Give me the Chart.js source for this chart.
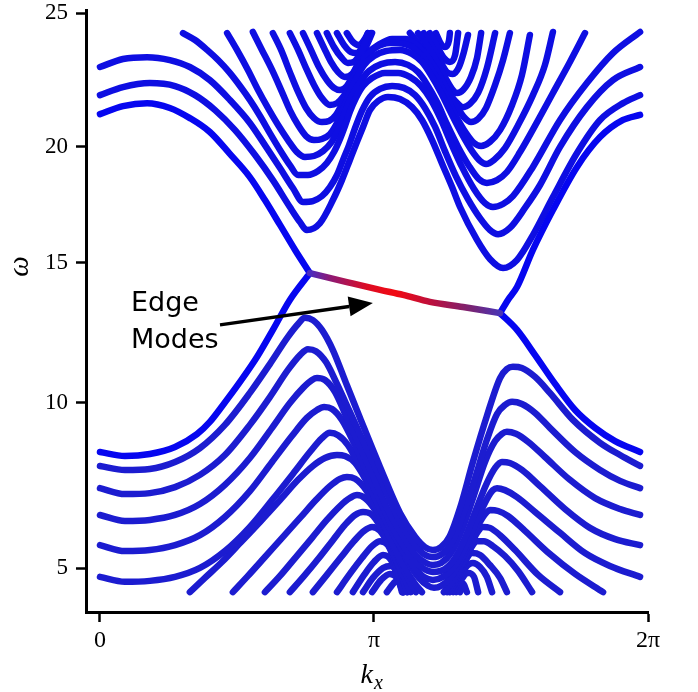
<!DOCTYPE html>
<html>
<head>
<meta charset="utf-8">
<script src="https://cdn.jsdelivr.net/npm/chart.js@4/dist/chart.umd.min.js"></script>
<style>
  html, body { margin: 0; padding: 0; background: #fff; }
  canvas { display: block; }
</style>
</head>
<body>
<canvas id="bands" width="698" height="692"></canvas>
<script>
const xTickValues = [0, 1, 2];
const xTickLabels = ['0', 'π', '2π'];
const yTickValues = [5, 10, 15, 20, 25];

// the omega axis is not evenly spaced: value -> fraction of the axis height
const yAxisValues = [3.68, 5, 10, 15, 20, 25, 25.11];
const yAxisPlaces = [0, 0.0726, 0.3477, 0.5802, 0.7729, 0.995, 1];

// edge state across the gap
const edgeMode = [[0.766,14.63],[0.901,14.31],[1.022,14.03],[1.106,13.85],[1.204,13.60],[1.325,13.42],[1.46,13.20]];

// bulk bands that end on the edge state
const upperEdgeLeft = [[0,21.22],[0.084,21.52],[0.172,21.63],[0.255,21.45],[0.328,21.07],[0.401,20.55],[0.474,19.69],[0.547,18.69],[0.602,17.70],[0.657,16.63],[0.712,15.55],[0.766,14.63]];
const upperEdgeRight = [[1.46,13.20],[1.489,13.67],[1.522,14.13],[1.58,15.55],[1.653,17.27],[1.741,19.13],[1.825,20.36],[1.909,21.0],[1.971,21.19]];
const lowerEdgeLeft = [[0,8.51],[0.091,8.39],[0.182,8.45],[0.274,8.66],[0.354,9.05],[0.401,9.42],[0.449,9.93],[0.511,10.74],[0.573,11.63],[0.631,12.60],[0.693,13.67],[0.766,14.63]];
const lowerEdgeRight = [[1.46,13.2],[1.522,12.6],[1.588,11.7],[1.661,10.67],[1.734,9.78],[1.807,9.24],[1.88,8.84],[1.971,8.51]];

// upper bands
const upperBands = [
  [[0,21.93],[0.084,22.23],[0.182,22.38],[0.274,22.27],[0.347,21.93],[0.42,21.37],[0.493,20.62],[0.566,19.64],[0.631,18.56],[0.693,17.40],[0.73,16.75],[0.755,16.41],[0.803,16.71],[0.85,17.70],[0.883,18.56],[0.912,19.43],[0.938,20.18],[0.96,20.74],[0.985,21.37],[1.015,21.71],[1.051,21.86],[1.095,21.78],[1.139,21.48],[1.175,21.0],[1.212,20.25],[1.252,19.17],[1.285,18.26],[1.314,17.40],[1.376,15.98],[1.423,15.16],[1.471,14.81],[1.522,15.12],[1.58,16.19],[1.653,17.83],[1.741,19.73],[1.825,21.0],[1.909,21.63],[1.971,21.93]],
  [[0,22.98],[0.084,23.28],[0.172,23.35],[0.255,23.24],[0.328,22.98],[0.401,22.49],[0.474,21.75],[0.547,20.89],[0.602,20.06],[0.657,19.08],[0.704,18.22],[0.741,17.62],[0.777,17.66],[0.81,17.87],[0.839,18.26],[0.865,18.78],[0.887,19.43],[0.909,20.06],[0.931,20.70],[0.956,21.34],[0.985,21.86],[1.022,22.16],[1.066,22.27],[1.109,22.20],[1.15,21.93],[1.186,21.45],[1.223,20.74],[1.259,19.81],[1.299,18.73],[1.343,17.74],[1.387,16.92],[1.423,16.41],[1.453,16.23],[1.496,16.50],[1.551,17.36],[1.606,18.35],[1.679,19.99],[1.777,21.48],[1.872,22.49],[1.971,22.98]],
  [[0.303,24.25],[0.347,23.99],[0.391,23.62],[0.431,23.24],[0.474,22.76],[0.511,22.27],[0.547,21.75],[0.584,21.15],[0.62,20.51],[0.657,19.86],[0.693,19.21],[0.723,18.78],[0.759,18.78],[0.796,18.95],[0.828,19.30],[0.854,19.77],[0.876,20.29],[0.894,20.77],[0.912,21.30],[0.934,21.82],[0.96,22.27],[0.993,22.57],[1.04,22.76],[1.088,22.76],[1.131,22.61],[1.172,22.27],[1.208,21.75],[1.245,21.0],[1.281,20.14],[1.321,19.13],[1.365,18.18],[1.405,17.57],[1.434,17.40],[1.471,17.53],[1.507,17.87],[1.58,19.13],[1.679,21.0],[1.777,22.38],[1.872,23.50],[1.971,24.29]],
  [[0.464,24.25],[0.5,23.62],[0.54,22.87],[0.577,22.12],[0.613,21.45],[0.65,20.81],[0.686,20.25],[0.719,19.77],[0.748,19.56],[0.781,19.60],[0.814,19.81],[0.843,20.14],[0.865,20.55],[0.883,21.0],[0.901,21.48],[0.923,21.97],[0.949,22.42],[0.982,22.83],[1.026,23.09],[1.077,23.17],[1.124,23.06],[1.161,22.79],[1.193,22.34],[1.23,21.67],[1.266,20.85],[1.307,19.99],[1.347,19.17],[1.383,18.60],[1.412,18.44],[1.449,18.56],[1.485,18.91],[1.533,19.77],[1.595,20.92],[1.653,22.01],[1.715,23.17],[1.77,24.25]],
  [[0.558,24.29],[0.591,23.62],[0.628,22.87],[0.664,22.05],[0.693,21.37],[0.723,20.81],[0.752,20.40],[0.781,20.25],[0.81,20.29],[0.839,20.47],[0.861,20.81],[0.88,21.22],[0.898,21.67],[0.916,22.16],[0.938,22.61],[0.964,23.06],[1.0,23.39],[1.044,23.58],[1.095,23.62],[1.139,23.47],[1.175,23.17],[1.208,22.68],[1.245,22.01],[1.281,21.26],[1.321,20.47],[1.358,19.81],[1.387,19.39],[1.409,19.25],[1.438,19.43],[1.478,19.94],[1.526,20.81],[1.58,21.93],[1.624,23.06],[1.653,24.29]],
  [[0.631,24.25],[0.661,23.62],[0.693,22.79],[0.723,22.05],[0.752,21.45],[0.781,21.07],[0.81,20.92],[0.836,20.96],[0.861,21.19],[0.88,21.52],[0.898,21.93],[0.916,22.38],[0.938,22.83],[0.967,23.32],[1.004,23.69],[1.058,23.88],[1.113,23.84],[1.153,23.62],[1.19,23.20],[1.226,22.61],[1.263,21.90],[1.299,21.15],[1.336,20.51],[1.365,20.14],[1.391,20.03],[1.423,20.18],[1.46,20.62],[1.504,21.56],[1.54,22.68],[1.569,24.18]],
  [[0.693,24.25],[0.723,23.62],[0.752,22.94],[0.781,22.31],[0.81,21.82],[0.839,21.56],[0.865,21.63],[0.887,21.86],[0.905,22.20],[0.923,22.61],[0.945,23.06],[0.974,23.47],[1.015,23.80],[1.066,24.03],[1.117,24.03],[1.157,23.80],[1.193,23.39],[1.23,22.83],[1.266,22.16],[1.299,21.56],[1.328,21.11],[1.354,20.92],[1.38,21.04],[1.409,21.45],[1.442,22.31],[1.471,23.24],[1.496,24.25]]
];
// upper bands that leave the window over the dome
const upperArcs = [
  [[0.741,24.25],[0.77,23.62],[0.799,22.98],[0.828,22.49],[0.854,22.20],[0.876,22.12],[0.901,22.27],[0.927,22.76],[0.953,23.43],[0.978,24.25]],
  [[1.131,24.25],[1.168,23.80],[1.204,23.24],[1.241,22.61],[1.277,21.97],[1.307,21.60],[1.325,21.48],[1.35,21.60],[1.38,22.01],[1.412,22.94],[1.442,24.25]],
  [[0.792,24.25],[0.818,23.69],[0.843,23.17],[0.869,22.79],[0.894,22.61],[0.92,22.72],[0.945,23.17],[0.971,23.73],[0.993,24.25]],
  [[1.161,24.25],[1.193,23.80],[1.23,23.17],[1.263,22.53],[1.285,22.16],[1.303,22.01],[1.325,22.12],[1.354,22.61],[1.376,23.32],[1.391,24.25]],
  [[0.828,24.25],[0.854,23.73],[0.88,23.35],[0.905,23.13],[0.927,23.17],[0.953,23.54],[0.978,24.06],[0.989,24.25]],
  [[1.182,24.25],[1.215,23.69],[1.245,23.13],[1.266,22.79],[1.288,22.72],[1.31,22.98],[1.328,23.54],[1.343,24.18]],
  [[0.865,24.25],[0.891,23.80],[0.916,23.54],[0.938,23.50],[0.96,23.77],[0.982,24.18]],
  [[1.204,24.25],[1.23,23.77],[1.255,23.32],[1.277,23.17],[1.296,23.43],[1.307,24.25]],
  [[0.901,24.25],[0.923,23.92],[0.945,23.80],[0.964,23.99],[0.978,24.25]],
  [[1.226,24.25],[1.245,23.84],[1.259,23.73],[1.274,23.99],[1.277,24.25]]
];

// lower bands
const lowerBands = [
  [[0,8.09],[0.091,7.97],[0.182,8.0],[0.274,8.21],[0.365,8.63],[0.456,9.33],[0.547,10.35],[0.62,11.38],[0.686,12.35],[0.723,12.81],[0.748,13.03],[0.777,12.95],[0.81,12.60],[0.85,11.88],[0.898,10.70],[0.949,9.54],[1.022,8.06],[1.095,6.67],[1.15,5.95],[1.186,5.64],[1.215,5.55],[1.245,5.64],[1.277,5.98],[1.314,6.82],[1.361,8.21],[1.412,9.60],[1.46,10.88],[1.485,11.20],[1.507,11.28],[1.54,11.24],[1.588,10.92],[1.642,10.35],[1.726,9.48],[1.825,8.79],[1.898,8.42],[1.971,8.09]],
  [[0,7.42],[0.091,7.24],[0.182,7.27],[0.274,7.45],[0.365,7.82],[0.456,8.42],[0.547,9.33],[0.62,10.20],[0.686,11.17],[0.73,11.70],[0.759,11.91],[0.788,11.84],[0.825,11.45],[0.865,10.67],[0.912,9.72],[0.964,8.78],[1.022,7.73],[1.088,6.52],[1.142,5.79],[1.182,5.43],[1.215,5.34],[1.248,5.43],[1.285,5.79],[1.325,6.61],[1.369,7.73],[1.412,8.88],[1.449,9.66],[1.478,9.93],[1.504,10.03],[1.54,9.96],[1.588,9.69],[1.642,9.24],[1.734,8.51],[1.825,7.97],[1.898,7.64],[1.971,7.42]],
  [[0,6.61],[0.091,6.43],[0.182,6.46],[0.274,6.61],[0.365,6.94],[0.456,7.52],[0.547,8.33],[0.628,9.24],[0.693,9.99],[0.741,10.53],[0.774,10.81],[0.792,10.88],[0.821,10.81],[0.858,10.38],[0.901,9.54],[0.949,8.66],[1.0,7.73],[1.051,6.76],[1.106,5.98],[1.153,5.40],[1.19,5.16],[1.215,5.10],[1.245,5.16],[1.281,5.46],[1.321,6.16],[1.365,7.21],[1.405,8.21],[1.442,8.84],[1.467,9.06],[1.485,9.12],[1.518,9.06],[1.562,8.82],[1.624,8.36],[1.715,7.67],[1.807,7.12],[1.898,6.79],[1.971,6.61]],
  [[0,5.70],[0.091,5.52],[0.182,5.55],[0.274,5.70],[0.365,6.0],[0.456,6.55],[0.547,7.33],[0.628,8.21],[0.701,9.0],[0.755,9.54],[0.792,9.78],[0.818,9.87],[0.847,9.81],[0.883,9.48],[0.927,8.78],[0.974,7.91],[1.026,6.97],[1.077,6.10],[1.128,5.43],[1.172,5.04],[1.215,4.89],[1.259,4.98],[1.296,5.31],[1.332,5.91],[1.372,6.76],[1.409,7.52],[1.442,8.03],[1.467,8.21],[1.496,8.18],[1.54,7.97],[1.606,7.48],[1.697,6.79],[1.788,6.22],[1.88,5.88],[1.971,5.70]],
  [[0,4.74],[0.091,4.59],[0.182,4.62],[0.274,4.74],[0.365,5.01],[0.456,5.52],[0.547,6.25],[0.628,7.06],[0.704,7.85],[0.766,8.51],[0.81,8.93],[0.839,9.09],[0.869,9.02],[0.905,8.72],[0.949,8.06],[0.996,7.24],[1.047,6.37],[1.099,5.61],[1.146,5.04],[1.182,4.74],[1.215,4.65],[1.252,4.74],[1.296,5.07],[1.336,5.70],[1.376,6.46],[1.412,7.09],[1.434,7.36],[1.449,7.42],[1.478,7.36],[1.522,7.15],[1.588,6.70],[1.679,6.07],[1.77,5.46],[1.861,5.07],[1.971,4.74]],
  [[0.328,4.28],[0.383,4.71],[0.445,5.19],[0.511,5.76],[0.584,6.40],[0.657,7.06],[0.723,7.67],[0.777,8.09],[0.821,8.33],[0.865,8.42],[0.894,8.39],[0.931,8.18],[0.974,7.61],[1.022,6.85],[1.073,6.01],[1.12,5.25],[1.164,4.71],[1.197,4.47],[1.219,4.41],[1.245,4.47],[1.281,4.74],[1.318,5.25],[1.354,5.91],[1.391,6.46],[1.412,6.70],[1.423,6.76],[1.453,6.73],[1.489,6.58],[1.551,6.13],[1.642,5.43],[1.734,4.83],[1.836,4.28]]
];
// lower bands that dip out of the window
const lowerArcs = [
  [[0.485,4.28],[0.54,4.77],[0.602,5.34],[0.668,5.95],[0.73,6.52],[0.788,7.06],[0.839,7.48],[0.876,7.70],[0.901,7.76],[0.931,7.70],[0.971,7.36],[1.015,6.70],[1.062,5.85],[1.109,5.07],[1.15,4.53],[1.175,4.28]],
  [[1.255,4.28],[1.285,4.59],[1.318,5.07],[1.35,5.64],[1.376,6.07],[1.398,6.25],[1.423,6.22],[1.46,6.0],[1.515,5.55],[1.599,4.80],[1.679,4.28]],
  [[0.602,4.28],[0.657,4.77],[0.715,5.34],[0.774,5.92],[0.828,6.46],[0.876,6.88],[0.912,7.12],[0.938,7.21],[0.967,7.12],[1.004,6.76],[1.047,6.07],[1.095,5.19],[1.131,4.59],[1.153,4.28]],
  [[1.266,4.28],[1.296,4.65],[1.325,5.16],[1.354,5.61],[1.376,5.82],[1.401,5.82],[1.434,5.67],[1.478,5.37],[1.526,4.92],[1.577,4.28]],
  [[0.693,4.28],[0.745,4.77],[0.799,5.31],[0.85,5.85],[0.894,6.31],[0.931,6.61],[0.96,6.70],[0.989,6.64],[1.026,6.22],[1.069,5.46],[1.109,4.74],[1.135,4.28]],
  [[1.277,4.28],[1.303,4.65],[1.328,5.13],[1.358,5.46],[1.387,5.40],[1.423,5.10],[1.46,4.71],[1.485,4.28]],
  [[0.777,4.28],[0.828,4.80],[0.88,5.34],[0.927,5.82],[0.964,6.13],[0.993,6.25],[1.022,6.13],[1.058,5.64],[1.095,4.95],[1.12,4.28]],
  [[1.288,4.28],[1.314,4.74],[1.339,5.07],[1.361,5.16],[1.387,5.04],[1.412,4.74],[1.431,4.28]],
  [[0.865,4.28],[0.912,4.83],[0.956,5.31],[0.993,5.67],[1.022,5.82],[1.051,5.70],[1.08,5.10],[1.106,4.28]],
  [[1.299,4.28],[1.321,4.68],[1.343,4.86],[1.365,4.74],[1.38,4.28]],
  [[0.923,4.28],[0.964,4.80],[1.0,5.19],[1.033,5.40],[1.062,5.25],[1.088,4.71],[1.102,4.28]],
  [[1.314,4.28],[1.325,4.53],[1.339,4.28]],
  [[0.96,4.28],[0.996,4.71],[1.033,5.01],[1.062,5.07],[1.088,4.80],[1.109,4.28]],
  [[0.993,4.28],[1.026,4.65],[1.058,4.83],[1.084,4.71],[1.106,4.28]],
  [[1.047,4.28],[1.077,4.59],[1.102,4.65],[1.124,4.28]]
];

// label and arrow, in (kx/pi, omega)
const labelAt = [0.113, 13.27, 11.95];
const arrowFrom = [0.438, 12.78];
const arrowTo = [0.996, 13.56];

function toPlace(v) {
  let n = yAxisValues.length;
  let i = 1;
  while (i < n - 1 && v > yAxisValues[i]) i++;
  let t = (v - yAxisValues[i - 1]) / (yAxisValues[i] - yAxisValues[i - 1]);
  return yAxisPlaces[i - 1] + t * (yAxisPlaces[i] - yAxisPlaces[i - 1]);
}

function fromPlace(d) {
  let n = yAxisPlaces.length;
  let i = 1;
  while (i < n - 1 && d > yAxisPlaces[i]) i++;
  let t = (d - yAxisPlaces[i - 1]) / (yAxisPlaces[i] - yAxisPlaces[i - 1]);
  return yAxisValues[i - 1] + t * (yAxisValues[i] - yAxisValues[i - 1]);
}

const LinearScale = Chart.LinearScale || Chart.registry.getScale('linear');
class WarpScale extends LinearScale {
  getPixelForValue(value) {
    if (value === null || value === undefined) return NaN;
    return this.getPixelForDecimal(toPlace(value));
  }
  getValueForPixel(pixel) {
    return fromPlace(this.getDecimalForPixel(pixel));
  }
}
WarpScale.id = 'warp';
WarpScale.defaults = LinearScale.defaults;
Chart.register(WarpScale);

function curve(points, color) {
  return {
    data: points.map(p => ({x: p[0], y: p[1]})),
    showLine: true,
    borderColor: color,
    borderWidth: 6.5,
    pointRadius: 0,
    borderCapStyle: 'round',
    borderJoinStyle: 'round',
    cubicInterpolationMode: 'monotone',
    order: 1
  };
}

function edgeColor(context) {
  let chart = context.chart;
  if (!chart.chartArea) return '#d00010';
  let x = chart.scales.x;
  let g = chart.ctx.createLinearGradient(x.getPixelForValue(edgeMode[0][0]), 0, x.getPixelForValue(edgeMode[edgeMode.length - 1][0]), 0);
  g.addColorStop(0, '#4a2cc0');
  g.addColorStop(0.1, '#8a1a78');
  g.addColorStop(0.3, '#dc0c24');
  g.addColorStop(0.45, '#f20a12');
  g.addColorStop(0.65, '#b81040');
  g.addColorStop(0.85, '#782474');
  g.addColorStop(1, '#4a34b4');
  return g;
}

let datasets = [];
let edgeSet = curve(edgeMode, '#d00010');
edgeSet.borderColor = edgeColor;
edgeSet.order = 0;
datasets.push(edgeSet);
[upperEdgeLeft, upperEdgeRight, lowerEdgeLeft, lowerEdgeRight].forEach(c => datasets.push(curve(c, 'rgb(6,6,240)')));
upperBands.forEach(c => datasets.push(curve(c, 'rgb(14,14,226)')));
upperArcs.forEach(c => datasets.push(curve(c, 'rgb(14,14,226)')));
lowerBands.forEach(c => datasets.push(curve(c, 'rgb(28,28,208)')));
lowerArcs.forEach(c => datasets.push(curve(c, 'rgb(28,28,208)')));

const notes = {
  id: 'notes',
  afterDatasetsDraw(chart) {
    let ctx = chart.ctx;
    let x = chart.scales.x;
    let y = chart.scales.y;
    let area = chart.chartArea;
    ctx.save();
    ctx.fillStyle = '#000';
    ctx.strokeStyle = '#000';

    ctx.font = '27px "DejaVu Sans"';
    ctx.textAlign = 'left';
    ctx.textBaseline = 'alphabetic';
    ctx.fillText('Edge', x.getPixelForValue(labelAt[0]), y.getPixelForValue(labelAt[1]));
    ctx.fillText('Modes', x.getPixelForValue(labelAt[0]), y.getPixelForValue(labelAt[2]));

    // arrow pointing at the edge state
    let x0 = x.getPixelForValue(arrowFrom[0]), y0 = y.getPixelForValue(arrowFrom[1]);
    let x1 = x.getPixelForValue(arrowTo[0]), y1 = y.getPixelForValue(arrowTo[1]);
    let a = Math.atan2(y1 - y0, x1 - x0);
    let head = 24, half = 10;
    let bx = x1 - head * Math.cos(a), by = y1 - head * Math.sin(a);
    ctx.lineWidth = 3.5;
    ctx.beginPath();
    ctx.moveTo(x0, y0);
    ctx.lineTo(bx, by);
    ctx.stroke();
    ctx.beginPath();
    ctx.moveTo(x1, y1);
    ctx.lineTo(bx + half * Math.sin(a), by - half * Math.cos(a));
    ctx.lineTo(bx - half * Math.sin(a), by + half * Math.cos(a));
    ctx.closePath();
    ctx.fill();

    // axis titles
    ctx.font = 'italic 29px "Liberation Serif"';
    ctx.textAlign = 'center';
    ctx.save();
    ctx.translate(28, area.top + 0.426 * (area.bottom - area.top));
    ctx.rotate(-Math.PI / 2);
    ctx.fillText('ω', 0, 0);
    ctx.restore();

    let kx = (area.left + area.right) / 2 + 2;
    ctx.textAlign = 'right';
    ctx.font = 'italic 28px "Liberation Serif"';
    ctx.fillText('k', kx + 4, 683);
    ctx.textAlign = 'left';
    ctx.font = 'italic 20px "Liberation Serif"';
    ctx.fillText('x', kx + 5, 689);
    ctx.restore();
  }
};

new Chart('bands', {
  type: 'scatter',
  data: { datasets: datasets },
  options: {
    responsive: false,
    animation: false,
    events: [],
    layout: { padding: { top: 10, right: 50, bottom: 0, left: 0 } },
    plugins: {
      legend: { display: false },
      tooltip: { enabled: false }
    },
    scales: {
      x: {
        type: 'linear',
        min: -0.051,
        max: 2,
        afterBuildTicks: s => { s.ticks = xTickValues.map(v => ({ value: v })); },
        afterFit: s => { s.height = 80; s.paddingLeft = 0; s.paddingRight = 0; },
        ticks: {
          color: '#000',
          padding: 4,
          maxRotation: 0,
          font: { family: '"Liberation Serif", serif', size: 24 },
          callback: v => xTickLabels[xTickValues.indexOf(v)]
        },
        grid: { drawOnChartArea: false, tickLength: 10, tickWidth: 2.5, tickColor: '#000' },
        border: { color: '#000', width: 3 }
      },
      y: {
        type: 'warp',
        position: 'left',
        min: 3.68,
        max: 25.11,
        afterBuildTicks: s => { s.ticks = yTickValues.map(v => ({ value: v })); },
        afterFit: s => { s.width = 86; s.paddingTop = 0; s.paddingBottom = 0; },
        ticks: {
          color: '#000',
          padding: 8,
          stepSize: 5,
          font: { family: '"Liberation Serif", serif', size: 23 },
          callback: v => String(v)
        },
        grid: { drawOnChartArea: false, tickLength: 10, tickWidth: 2.5, tickColor: '#000' },
        border: { color: '#000', width: 3 }
      }
    }
  },
  plugins: [notes]
});
</script>
</body>
</html>
